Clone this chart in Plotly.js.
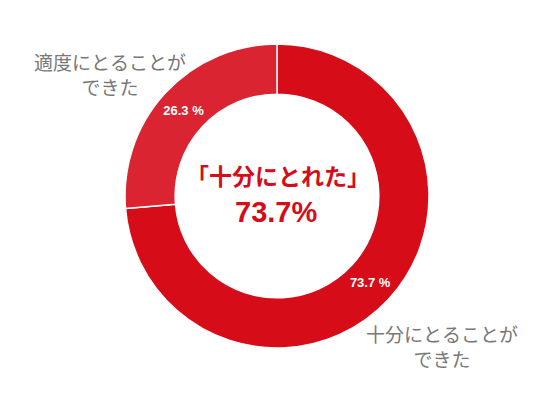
<!DOCTYPE html>
<html>
<head>
<meta charset="utf-8">
<script src="https://cdn.plot.ly/plotly-3.0.1.min.js"></script>
<style>html,body{margin:0;padding:0;background:#fff;}#chart{width:550px;height:393px;}</style>
</head>
<body>
<div id="chart"></div>
<script>
const categories = ["十分にとることが<br>できた", "適度にとることが<br>できた"];
const values = [73.7, 26.3];
const sliceColors = ["#d60c19", "#da2431"];
const centerTitle = "「十分にとれた」";
const centerValue = "73.7%";

const trace = {
  type: "pie",
  labels: categories,
  values: values,
  sort: false,
  direction: "clockwise",
  rotation: 0,
  hole: 0.67,
  marker: {colors: sliceColors, line: {color: "#ffffff", width: 1.5}},
  texttemplate: "%{value:.1f} %",
  textposition: "inside",
  insidetextorientation: "horizontal",
  textfont: {family: "Liberation Sans, Arial, sans-serif", size: 13, color: "#ffffff", weight: "bold"},
  domain: {x: [0.2273, 0.78], y: [0.1145, 0.888]},
  hoverinfo: "none",
  showlegend: false
};

const jp = "Noto Sans CJK JP, sans-serif";
const layout = {
  width: 550, height: 393,
  margin: {l: 0, r: 0, t: 0, b: 0},
  paper_bgcolor: "#ffffff",
  showlegend: false,
  annotations: [
    {text: categories[1], x: 110/550, y: 1 - 74/393, xref: "paper", yref: "paper", showarrow: false,
     font: {family: jp, size: 19, color: "#787878"}, align: "center", xanchor: "center", yanchor: "middle"},
    {text: categories[0], x: 442/550, y: 1 - 346/393, xref: "paper", yref: "paper", showarrow: false,
     font: {family: jp, size: 19, color: "#787878"}, align: "center", xanchor: "center", yanchor: "middle"},
    {text: "<b>" + centerTitle + "</b>", x: 278/550, y: 1 - 175/393, xref: "paper", yref: "paper", showarrow: false,
     font: {family: jp, size: 23, color: "#d40d19"}, xanchor: "center", yanchor: "middle"},
    {text: "<b>" + centerValue + "</b>", x: 276/550, y: 1 - 212/393, xref: "paper", yref: "paper", showarrow: false,
     font: {family: "Liberation Sans, Arial, sans-serif", size: 29, color: "#d40d19"}, xanchor: "center", yanchor: "middle"}
  ]
};

Plotly.newPlot("chart", [trace], layout, {displayModeBar: false, staticPlot: true});
</script>
</body>
</html>
